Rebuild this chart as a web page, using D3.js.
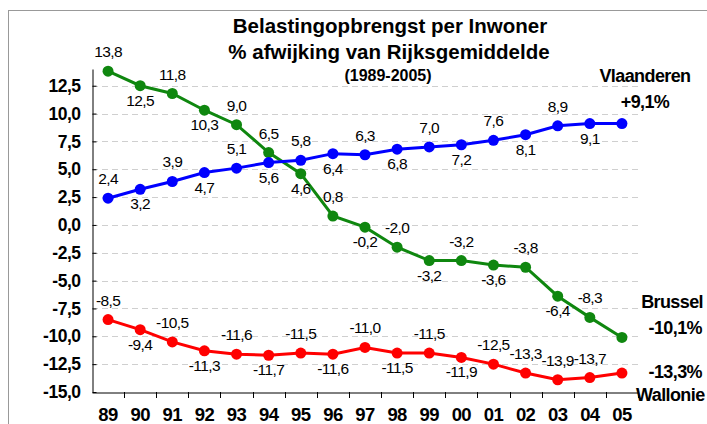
<!DOCTYPE html>
<html>
<head>
<meta charset="utf-8">
<script src="https://cdn.jsdelivr.net/npm/d3@7"></script>
<style>
  body { margin: 0; background: #fff; }
  svg { font-family: "Liberation Sans", Arial, sans-serif; }
</style>
</head>
<body>
<div id="container"></div>
<script>
let years = ["89","90","91","92","93","94","95","96","97","98","99","00","01","02","03","04","05"];
let vlaanderen = [2.4, 3.2, 3.9, 4.7, 5.1, 5.6, 5.8, 6.4, 6.3, 6.8, 7.0, 7.2, 7.6, 8.1, 8.9, 9.1, 9.1];
let brussel = [13.8, 12.5, 11.8, 10.3, 9.0, 6.5, 4.6, 0.8, -0.2, -2.0, -3.2, -3.2, -3.6, -3.8, -6.4, -8.3, -10.1];
let wallonie = [-8.5, -9.4, -10.5, -11.3, -11.6, -11.7, -11.5, -11.6, -11.0, -11.5, -11.5, -11.9, -12.5, -13.3, -13.9, -13.7, -13.3];
// label side per point: 1 = above, -1 = below, 0 = none
let vlaSide = [1,-1,1,-1,1,-1,1,-1,1,-1,1,-1,1,-1,1,-1,0];
let bruSide = [1,-1,1,-1,1,1,-1,1,-1,1,-1,1,-1,1,-1,1,0];
let walSide = [1,-1,1,-1,1,-1,1,-1,1,-1,1,-1,1,1,1,1,0];
let yTicks = [12.5, 10, 7.5, 5, 2.5, 0, -2.5, -5, -7.5, -10, -12.5, -15];

let width = 707, height = 424;
let fmt = function(v) { return d3.format(".1f")(v).replace(".", ",").replace("−", "-"); };

let svg = d3.select("#container").append("svg")
    .attr("width", width)
    .attr("height", height);

svg.append("rect")
    .attr("x", 8.5).attr("y", 10.5)
    .attr("width", 720).attr("height", 430)
    .style("fill", "none")
    .style("stroke", "#999")
    .style("stroke-width", "1px");

let x = d3.scaleBand().domain(years).range([92, 638]);
let y = d3.scaleLinear().domain([-15, 14]).range([392, 69]);
let cx = function(i) { return x(years[i]) + x.bandwidth() / 2; };

// gridlines
svg.append("g").selectAll("line")
    .data(yTicks.filter(function(d) { return d > -15; }))
    .enter().append("line")
    .attr("x1", 92).attr("x2", 638)
    .attr("y1", function(d) { return Math.round(y(d)) + 0.5; })
    .attr("y2", function(d) { return Math.round(y(d)) + 0.5; })
    .style("stroke", "#cfcfcf")
    .style("stroke-dasharray", "6,4");

// y axis
let yAxis = svg.append("g")
    .attr("transform", "translate(92.5,0)")
    .call(d3.axisLeft(y).tickValues(yTicks).tickFormat(fmt).tickSize(5).tickSizeOuter(0));
yAxis.selectAll(".tick line").attr("x2", 4).style("stroke", "#000");
yAxis.select(".domain").style("stroke", "#000");
yAxis.selectAll(".tick text")
    .attr("x", -12)
    .style("font-size", "17.5px")
    .style("font-weight", "bold")
    .style("letter-spacing", "-0.5px")
    .style("font-family", "'Liberation Sans', Arial, sans-serif");

// x axis
let xAxis = svg.append("g")
    .attr("transform", "translate(0," + (y(-15) + 0.5) + ")")
    .call(d3.axisBottom(x).tickSize(0).tickSizeOuter(0));
xAxis.select(".domain").style("stroke", "#000");
xAxis.selectAll(".tick text")
    .attr("y", 15)
    .style("font-size", "18.5px")
    .style("font-weight", "bold")
    .style("letter-spacing", "-0.6px")
    .style("font-family", "'Liberation Sans', Arial, sans-serif");
svg.append("g").selectAll("line")
    .data(years)
    .enter().append("line")
    .attr("x1", function(d) { return Math.round(x(d) + x.bandwidth()) + 0.5; })
    .attr("x2", function(d) { return Math.round(x(d) + x.bandwidth()) + 0.5; })
    .attr("y1", y(-15)).attr("y2", y(-15) + 6)
    .style("stroke", "#000");

let series = [
    {values: brussel, side: bruSide, color: "#0f870f"},
    {values: vlaanderen, side: vlaSide, color: "#0000ff"},
    {values: wallonie, side: walSide, color: "#ff0000"}
];

let line = d3.line()
    .x(function(d, i) { return cx(i); })
    .y(function(d) { return y(d); });

series.forEach(function(s) {
    let g = svg.append("g");
    g.append("path")
        .datum(s.values)
        .attr("d", line)
        .style("fill", "none")
        .style("stroke", s.color)
        .style("stroke-width", "3px");
    g.selectAll("circle")
        .data(s.values)
        .enter().append("circle")
        .attr("cx", function(d, i) { return cx(i); })
        .attr("cy", function(d) { return y(d); })
        .attr("r", 5.5)
        .style("fill", s.color);

    let pts = s.values.map(function(v, i) { return {v: v, i: i, side: s.side[i]}; })
        .filter(function(p) { return p.side !== 0; });
    g.selectAll("text")
        .data(pts)
        .enter().append("text")
        .attr("x", function(p) { return cx(p.i); })
        .attr("y", function(p) { return y(p.v) + (p.side > 0 ? -14 : 20); })
        .attr("text-anchor", "middle")
        .style("font-size", "15.5px")
        .style("letter-spacing", "-0.6px")
        .text(function(p) { return fmt(p.v); });
});

// title
let title = svg.append("g")
    .style("font-weight", "bold")
    .attr("text-anchor", "middle");
title.append("text").attr("x", 390).attr("y", 33)
    .style("font-size", "20.5px")
    .text("Belastingopbrengst per Inwoner");
title.append("text").attr("x", 389).attr("y", 59)
    .style("font-size", "20.5px")
    .text("% afwijking van Rijksgemiddelde");
title.append("text").attr("x", 388).attr("y", 81)
    .style("font-size", "16px")
    .text("(1989-2005)");

// series names at right
let names = svg.append("g")
    .style("font-weight", "bold")
    .style("font-size", "18px")
    .style("letter-spacing", "-0.6px");
names.append("text").attr("x", 645).attr("y", 82).attr("text-anchor", "middle").text("Vlaanderen");
names.append("text").attr("x", 645).attr("y", 108).attr("text-anchor", "middle").text("+9,1%");
names.append("text").attr("x", 703).attr("y", 308).attr("text-anchor", "end").text("Brussel");
names.append("text").attr("x", 702).attr("y", 334).attr("text-anchor", "end").text("-10,1%");
names.append("text").attr("x", 702).attr("y", 378).attr("text-anchor", "end").text("-13,3%");
names.append("text").attr("x", 636).attr("y", 401).attr("text-anchor", "start").text("Wallonie");
</script>
</body>
</html>
